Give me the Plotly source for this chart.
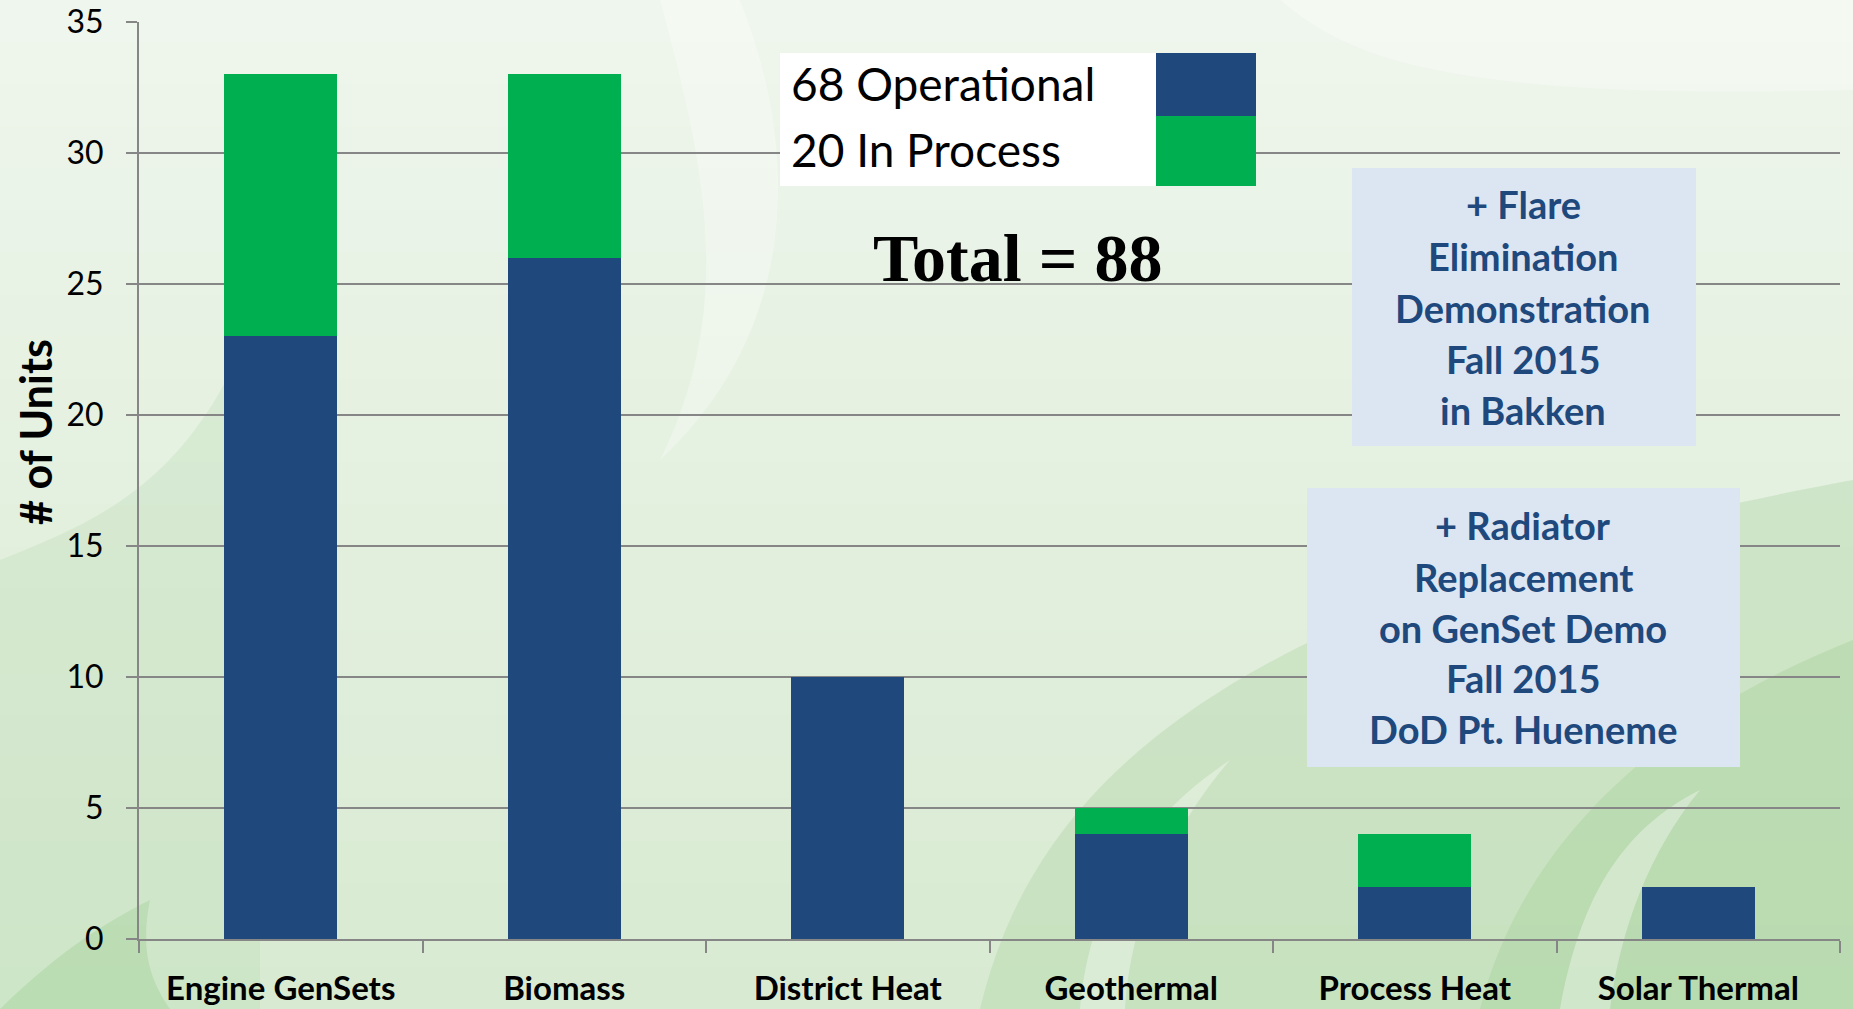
import plotly.graph_objects as go

# ---------------- data ----------------
categories = ["Engine GenSets", "Biomass", "District Heat", "Geothermal", "Process Heat", "Solar Thermal"]
operational = [23, 26, 10, 4, 2, 2]
in_process = [10, 7, 0, 1, 2, 0]
y_ticks = [0, 5, 10, 15, 20, 25, 30, 35]
legend_labels = ["68 Operational", "20 In Process"]
total_label = "Total = 88"
note1_lines = ["+ Flare", "Elimination", "Demonstration", "Fall 2015", "in Bakken"]
note2_lines = ["+ Radiator", "Replacement", "on GenSet Demo", "Fall 2015", "DoD Pt. Hueneme"]

BLUE = "#1f497d"
GREEN = "#00b050"
W, H = 1853, 1009
L, R, T, B = 139, 13, 22, 70
PW, PH = W - L - R, H - T - B


def px(x):
    return (x - L) / PW


def py(y):
    return (H - B - y) / PH


fig = go.Figure()
fig.add_trace(go.Bar(x=categories, y=operational, name="Operational",
                     marker=dict(color=BLUE, line=dict(width=0)), width=0.4))
fig.add_trace(go.Bar(x=categories, y=in_process, name="In Process",
                     marker=dict(color=GREEN, line=dict(width=0)), width=0.4))

shapes = []
# background vertical gradient (strips)
top_c = (239, 246, 237)
bot_c = (216, 235, 210)
n = 24
for i in range(n):
    t = i / (n - 1)
    c = tuple(int(top_c[k] + (bot_c[k] - top_c[k]) * t) for k in range(3))
    shapes.append(dict(type="rect", xref="paper", yref="paper", layer="below",
                       x0=px(0), x1=px(W), y0=py(H * i / n), y1=py(H * (i + 1) / n + 1),
                       fillcolor="rgb(%d,%d,%d)" % c, line=dict(width=0)))


def path_shape(cmds, fill):
    parts = []
    for c in cmds:
        op, pts = c[0], c[1:]
        parts.append(op + " " + " ".join("%f,%f" % (px(a), py(b)) for a, b in pts))
    d = " ".join(parts) + " Z"
    return dict(type="path", xref="paper", yref="paper", layer="below", path=d,
                fillcolor=fill, line=dict(width=0))


# decorative swirls (background only)
shapes.append(path_shape([("M", (980, 1009)), ("C", (1030, 800), (1200, 600), (1853, 480)),
                          ("L", (1853, 1009))], "rgba(168,210,158,0.35)"))
shapes.append(path_shape([("M", (1480, 1009)), ("C", (1520, 850), (1650, 720), (1853, 640)),
                          ("L", (1853, 1009))], "rgba(160,205,150,0.35)"))
shapes.append(path_shape([("M", (1080, 1009)), ("C", (1090, 900), (1140, 820), (1230, 760)),
                          ("C", (1170, 830), (1130, 920), (1125, 1009))], "rgba(255,255,255,0.35)"))
shapes.append(path_shape([("M", (1560, 1009)), ("C", (1580, 900), (1620, 830), (1700, 790)),
                          ("C", (1650, 850), (1620, 930), (1610, 1009))], "rgba(255,255,255,0.35)"))
shapes.append(path_shape([("M", (0, 560)), ("C", (100, 520), (200, 480), (260, 300)),
                          ("L", (260, 1009)), ("L", (0, 1009))], "rgba(190,222,182,0.35)"))
shapes.append(path_shape([("M", (0, 1009)), ("C", (60, 950), (110, 920), (150, 900)),
                          ("C", (140, 950), (150, 980), (170, 1009))], "rgba(165,210,155,0.45)"))
shapes.append(path_shape([("M", (660, 0)), ("C", (700, 150), (740, 300), (660, 460)),
                          ("C", (800, 330), (800, 150), (740, 0))], "rgba(255,255,255,0.30)"))
shapes.append(path_shape([("M", (1280, 0)), ("C", (1350, 60), (1450, 100), (1853, 90)),
                          ("L", (1853, 0))], "rgba(255,255,255,0.30)"))

# legend box
shapes.append(dict(type="rect", xref="paper", yref="paper", x0=px(780), x1=px(1156), y0=py(186), y1=py(53),
                   fillcolor="white", line=dict(width=0)))
shapes.append(dict(type="rect", xref="paper", yref="paper", x0=px(1156), x1=px(1256), y0=py(116), y1=py(53),
                   fillcolor=BLUE, line=dict(width=0)))
shapes.append(dict(type="rect", xref="paper", yref="paper", x0=px(1156), x1=px(1256), y0=py(186), y1=py(116),
                   fillcolor=GREEN, line=dict(width=0)))
# note boxes
shapes.append(dict(type="rect", xref="paper", yref="paper", x0=px(1352), x1=px(1696), y0=py(446), y1=py(168),
                   fillcolor="#dce6f2", line=dict(width=0)))
shapes.append(dict(type="rect", xref="paper", yref="paper", x0=px(1307), x1=px(1740), y0=py(767), y1=py(488),
                   fillcolor="#dce6f2", line=dict(width=0)))

annotations = []
for lab, yy in zip(legend_labels, [83, 149]):
    annotations.append(dict(text=lab, xref="paper", yref="paper", x=px(789), y=py(yy),
                            xanchor="left", yanchor="middle", showarrow=False,
                            font=dict(family="Lato", size=46, color="black")))
annotations.append(dict(text="<b>%s</b>" % total_label, xref="paper", yref="paper", x=px(1017), y=py(258),
                        xanchor="center", yanchor="middle", showarrow=False,
                        font=dict(family="Liberation Serif", size=68, color="black")))
for lines, ys in [(note1_lines, [204, 256, 308, 359, 410]), (note2_lines, [525, 577, 628, 678, 729])]:
    for ln, yy in zip(lines, ys):
        annotations.append(dict(text="<b>%s</b>" % ln, xref="paper", yref="paper", x=px(1523), y=py(yy),
                                xanchor="center", yanchor="middle", showarrow=False,
                                font=dict(family="Lato", size=38, color=BLUE)))
annotations.append(dict(text="<b># of Units</b>", xref="paper", yref="paper", x=px(35), y=py(432),
                        xanchor="center", yanchor="middle", textangle=-90, showarrow=False,
                        font=dict(family="Lato", size=43, color="black")))

fig.update_layout(
    barmode="stack",
    width=W, height=H,
    margin=dict(l=L, r=R, t=T, b=B, pad=0, autoexpand=False),
    paper_bgcolor="#e8f2e5",
    plot_bgcolor="rgba(0,0,0,0)",
    showlegend=False,
    shapes=shapes,
    annotations=annotations,
    xaxis=dict(range=[-0.5, 5.5], tickson="boundaries", ticks="outside", ticklen=12,
               tickcolor="#868686", tickwidth=2, showline=True, linecolor="#868686", linewidth=2,
               showgrid=False, ticklabelstandoff=19, automargin=False,
               tickfont=dict(family="Lato", size=33, color="black", weight="bold")),
    yaxis=dict(range=[0, 35], tickvals=y_ticks, ticks="outside", ticklen=11,
               tickcolor="#868686", tickwidth=2, showline=True, linecolor="#868686", linewidth=2,
               showgrid=True, gridcolor="#868686", gridwidth=2, zeroline=False,
               ticklabelstandoff=16, automargin=False,
               tickfont=dict(family="Lato", size=32, color="black")),
)

fig.write_html("out.html")
